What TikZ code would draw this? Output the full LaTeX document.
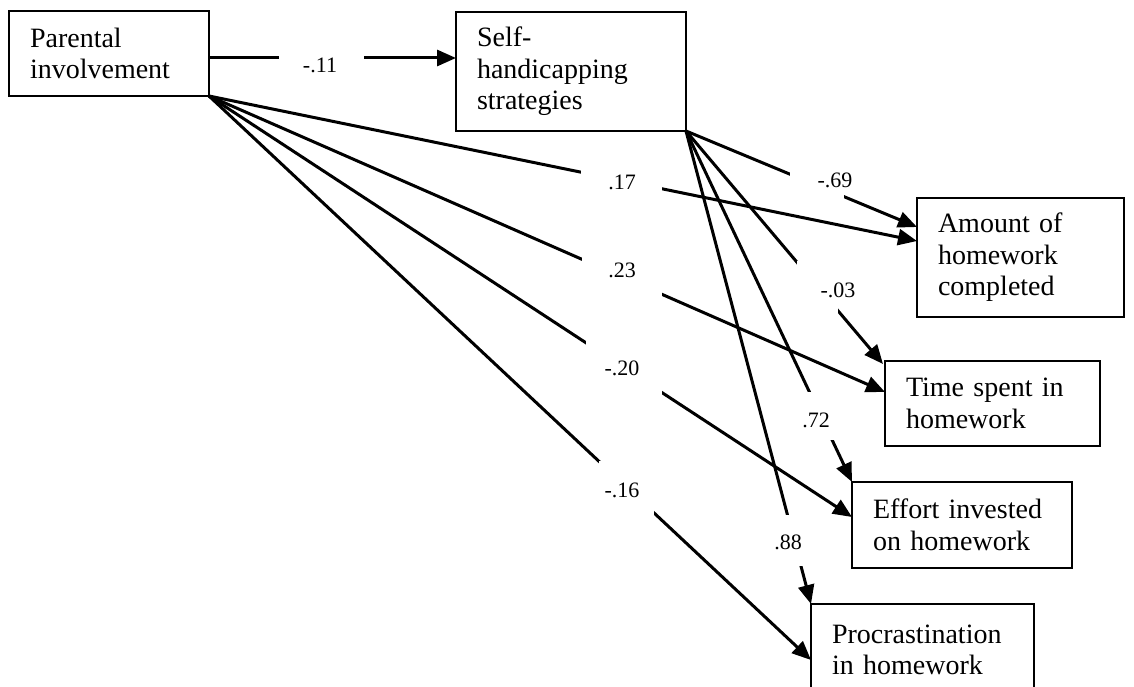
\documentclass[tikz,border=0pt]{standalone}
\usepackage{fontspec}
\setmainfont{Liberation Serif}
\usetikzlibrary{arrows.meta,calc}
\begin{document}
\begin{tikzpicture}[x=1pt,y=-1pt]
\tikzset{
  box/.style={draw, line width=2.3pt, inner xsep=21pt, inner ysep=0pt, outer sep=0pt,
    align=left, anchor=north west, font=\fontsize{28}{31.5}\selectfont},
  conn/.style={line width=3pt},
  arr/.style={conn, -{Triangle[length=19pt,width=16pt]}},
  gap/.style={fill=white, inner sep=0pt, outer sep=0pt},
  coef/.style={font=\fontsize{22}{24}\selectfont, inner sep=0pt},
}
\useasboundingbox (0,0) rectangle (1134,687);
\fill[white] (0,0) rectangle (1134,687);

% boxes
\node[box, text width=158pt, minimum height=85pt] (p) at (9,11) {Parental\\involvement};
\node[box, text width=188pt, minimum height=119pt] (s) at (456,12) {Self-\\handicapping\\strategies};
\node[box, text width=165pt, minimum height=119pt] (a) at (917,198) {Amount of\\homework\\completed};
\node[box, text width=173pt, minimum height=85pt] (t) at (885,361) {Time spent in\\homework};
\node[box, text width=178pt, minimum height=86pt] (e) at (852,482) {Effort invested\\on homework};
\node[box, text width=181pt, minimum height=92pt] (r) at (811,604) {Procrastination\\in homework};

% connectors
\draw[arr] ([yshift=-4.5pt]p.east) -- ([yshift=-4.5pt]p.east -| s.west);
\draw[arr] (p.south east) -- ([yshift=-43pt]a.north west);
\draw[arr] (p.south east) -- ([yshift=-31pt]t.north west);
\draw[arr] (p.south east) -- ([yshift=-35pt]e.north west);
\draw[arr] (p.south east) -- ([yshift=-56pt]r.north west);
\draw[arr] (s.south east) -- ([yshift=-29pt]a.north west);
\draw[arr] (s.south east) -- ([shift={(-2pt,-3pt)}]t.north west);
\draw[arr] (s.south east) -- (e.north west);
\draw[arr] (s.south east) -- (r.north west);

% gaps in the connectors
\node[gap, minimum width=85pt, minimum height=14pt] (g1) at (321.5,58) {};
\node[gap, minimum width=81pt, minimum height=28pt] (g2) at (621.5,180.5) {};
\node[gap, minimum width=80pt, minimum height=42pt] (g3) at (622,277) {};
\node[gap, minimum width=76pt, minimum height=56pt] (g4) at (624,367) {};
\node[gap, minimum width=55pt, minimum height=58pt] (g5) at (626.5,489.5) {};
\node[gap, minimum width=54pt, minimum height=30pt] (g6) at (817,185) {};
\node[gap, minimum width=41pt, minimum height=55pt] (g7) at (817.5,288) {};
\node[gap, minimum width=30pt, minimum height=48pt] (g8) at (820,416) {};
\node[gap, minimum width=24pt, minimum height=51pt] (g9) at (792.5,540.5) {};

% coefficients
\node[coef] (c1) at (320,65) {-.11};
\node[coef] (c2) at (622,182) {.17};
\node[coef] (c3) at (622,270) {.23};
\node[coef] (c4) at (622,368) {-.20};
\node[coef] (c5) at (622,490) {-.16};
\node[coef] (c6) at (835,180) {-.69};
\node[coef] (c7) at (838,290) {-.03};
\node[coef] (c8) at (816,420) {.72};
\node[coef] (c9) at (788,542) {.88};
\end{tikzpicture}
\end{document}
